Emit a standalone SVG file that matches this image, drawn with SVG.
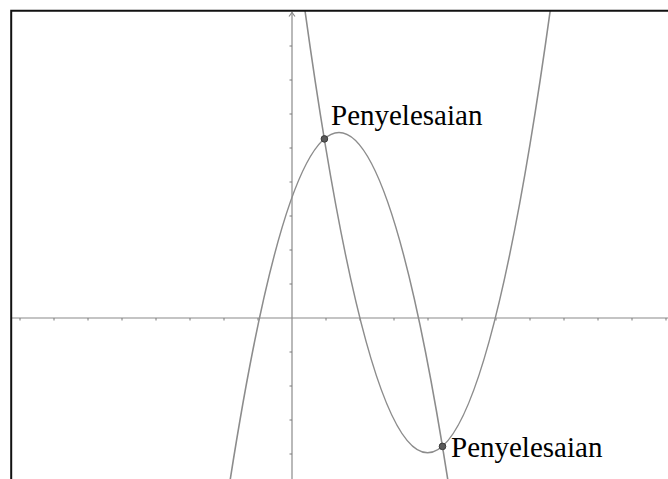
<svg xmlns="http://www.w3.org/2000/svg" width="668" height="479" viewBox="0 0 668 479">
  <style>
    .axis { stroke: #8a8a8a; stroke-width: 1.2; fill: none; }
    .tick { stroke: #7a7a7a; stroke-width: 1; }
    .curve { stroke: #8c8c8c; stroke-width: 1.6; fill: none; }
    .frame { stroke: #111; stroke-width: 2; fill: none; }
    .pt { fill: #5a5a5a; stroke: #3a3a3a; stroke-width: 1; }
    .lbl { font-family: "Liberation Serif", "Times New Roman", serif; font-size: 29px; fill: #000; }
  </style>
  <rect x="0" y="0" width="668" height="479" fill="#fff"/>
  <g id="axes">
    <line class="axis" x1="12" y1="318" x2="668" y2="318"/>
    <line class="axis" x1="292" y1="12" x2="292" y2="479"/>
    <polyline class="axis" points="289,16.5 292,12.5 295,16.5"/>
    <g id="xticks">
      <line class="tick" x1="20" y1="318" x2="20" y2="320.5"/>
      <line class="tick" x1="54" y1="318" x2="54" y2="320.5"/>
      <line class="tick" x1="88" y1="318" x2="88" y2="320.5"/>
      <line class="tick" x1="122" y1="318" x2="122" y2="320.5"/>
      <line class="tick" x1="156" y1="318" x2="156" y2="320.5"/>
      <line class="tick" x1="190" y1="318" x2="190" y2="320.5"/>
      <line class="tick" x1="224" y1="318" x2="224" y2="320.5"/>
      <line class="tick" x1="258" y1="318" x2="258" y2="320.5"/>
      <line class="tick" x1="326" y1="318" x2="326" y2="320.5"/>
      <line class="tick" x1="360" y1="318" x2="360" y2="320.5"/>
      <line class="tick" x1="394" y1="318" x2="394" y2="320.5"/>
      <line class="tick" x1="428" y1="318" x2="428" y2="320.5"/>
      <line class="tick" x1="462" y1="318" x2="462" y2="320.5"/>
      <line class="tick" x1="496" y1="318" x2="496" y2="320.5"/>
      <line class="tick" x1="530" y1="318" x2="530" y2="320.5"/>
      <line class="tick" x1="564" y1="318" x2="564" y2="320.5"/>
      <line class="tick" x1="598" y1="318" x2="598" y2="320.5"/>
      <line class="tick" x1="632" y1="318" x2="632" y2="320.5"/>
      <line class="tick" x1="666" y1="318" x2="666" y2="320.5"/>
    </g>
    <g id="yticks">
      <line class="tick" x1="289.5" y1="46" x2="292" y2="46"/>
      <line class="tick" x1="289.5" y1="80" x2="292" y2="80"/>
      <line class="tick" x1="289.5" y1="114" x2="292" y2="114"/>
      <line class="tick" x1="289.5" y1="148" x2="292" y2="148"/>
      <line class="tick" x1="289.5" y1="182" x2="292" y2="182"/>
      <line class="tick" x1="289.5" y1="216" x2="292" y2="216"/>
      <line class="tick" x1="289.5" y1="250" x2="292" y2="250"/>
      <line class="tick" x1="289.5" y1="284" x2="292" y2="284"/>
      <line class="tick" x1="289.5" y1="352" x2="292" y2="352"/>
      <line class="tick" x1="289.5" y1="386" x2="292" y2="386"/>
      <line class="tick" x1="289.5" y1="420" x2="292" y2="420"/>
      <line class="tick" x1="289.5" y1="454" x2="292" y2="454"/>
    </g>
  </g>
  <g id="connectors">
    <path id="parabola-down" class="curve" d="M230.3,479 Q339,-214 447.7,479"/>
    <path id="parabola-up" class="curve" d="M304.9,10 Q427.6,895.6 550.3,10"/>
  </g>
  <g id="frame">
    <polyline class="frame" points="11.2,479 11.2,10.8 668,10.8"/>
  </g>
  <g id="point-1">
    <circle class="pt" cx="324.4" cy="138.9" r="3.3"/>
    <text class="lbl" x="331" y="125">Penyelesaian</text>
  </g>
  <g id="point-2">
    <circle class="pt" cx="442.5" cy="446.4" r="3.3"/>
    <text class="lbl" x="451" y="456.5">Penyelesaian</text>
  </g>
</svg>
